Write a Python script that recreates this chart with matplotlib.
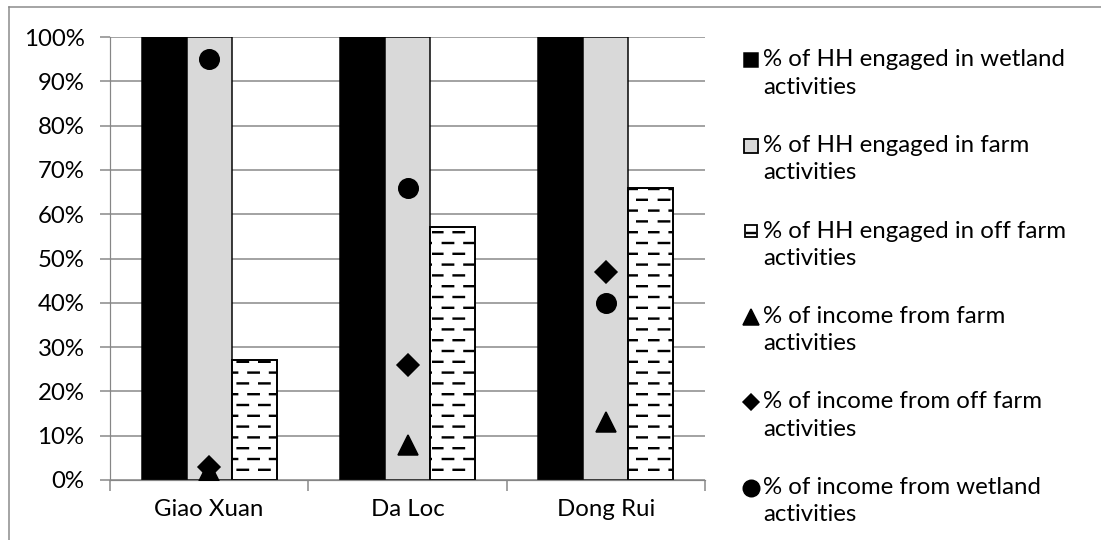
import numpy as np
import matplotlib
matplotlib.use("Agg")
import matplotlib.pyplot as plt
import matplotlib.hatch as mhatch
from matplotlib.path import Path
from matplotlib.patches import Rectangle
from matplotlib.lines import Line2D

# ---------------- data ----------------
sites = ["Giao Xuan", "Da Loc", "Dong Rui"]
hh_wetland = [100, 100, 100]
hh_farm = [100, 100, 100]
hh_offfarm = [27, 57, 66]
inc_farm = [2, 8, 13]
inc_offfarm = [3, 26, 47]
inc_wetland = [95, 66, 40]
yticks = [0, 10, 20, 30, 40, 50, 60, 70, 80, 90, 100]
legend_labels = [
    ("% of HH engaged in wetland", "activities"),
    ("% of HH engaged in farm", "activities"),
    ("% of HH engaged in off farm", "activities"),
    ("% of income from farm", "activities"),
    ("% of income from off farm", "activities"),
    ("% of income from wetland", "activities"),
]

# ------------- custom dashed hatch -------------
class DashHatch(mhatch.HatchPatternBase):
    def __init__(self, hatch, density):
        n = hatch.count('-')
        self.rows = 10 if n else 0
        self.cols = 5
        self.num_lines = self.rows * self.cols
        self.num_vertices = self.num_lines * 2

    def set_vertices_and_codes(self, vertices, codes):
        k = 0
        period = 1.0 / self.cols
        L = 0.48 * period
        for r in range(self.rows):
            y = (r + 0.5) / self.rows
            off = 0.0 if r % 2 == 0 else period / 2
            for c in range(self.cols):
                x0 = c * period + off
                vertices[k] = (x0, y)
                vertices[k + 1] = (x0 + L, y)
                codes[k] = Path.MOVETO
                codes[k + 1] = Path.LINETO
                k += 2

mhatch._hatch_types = [DashHatch]

FONT = "Lato"
FS = 16
plt.rcParams['font.family'] = [FONT, 'DejaVu Sans']
plt.rcParams['hatch.linewidth'] = 1.6
plt.rcParams['hatch.color'] = '#333333'

DPI = 108
W, H = 1101, 540
fig = plt.figure(figsize=(W / DPI, H / DPI), dpi=DPI)
ax = fig.add_axes([110 / W, 1 - 480 / H, (705 - 110) / W, (480 - 37) / H])

x = np.arange(len(sites))
bw = 0.227
grid_c = '#868686'

ax.set_axisbelow(True)
ax.yaxis.grid(True, color=grid_c, linewidth=1.0)
ax.bar(x - bw, hh_wetland, bw, color='black', edgecolor='black', linewidth=1.0, zorder=2)
ax.bar(x, hh_farm, bw, color='#d9d9d9', edgecolor='black', linewidth=1.0, zorder=2)
ax.bar(x + bw, hh_offfarm, bw, color='white', edgecolor='black', linewidth=1.3,
       hatch='-', zorder=2)

ax.plot(x, inc_farm, linestyle='none', marker='^', markersize=13, color='black', zorder=4)
ax.plot(x, inc_offfarm, linestyle='none', marker='D', markersize=10, color='black', zorder=5)
ax.plot(x, inc_wetland, linestyle='none', marker='o', markersize=13, color='black', zorder=5)

ax.set_xlim(-0.5, len(sites) - 0.5)
ax.set_ylim(0, 100)
ax.set_yticks(yticks)
ax.set_yticklabels([f"{v}%" for v in yticks])
ax.set_xticks(x)
ax.set_xticklabels(sites)
ax.set_xticks(np.arange(len(sites) + 1) - 0.5, minor=True)
ax.tick_params(axis='x', which='major', length=0, pad=13, labelsize=FS)
ax.tick_params(axis='x', which='minor', length=7, color=grid_c, width=1.0, direction='out')
ax.tick_params(axis='y', length=7, color=grid_c, width=1.0, pad=10, labelsize=FS)
for s in ['top', 'right']:
    ax.spines[s].set_visible(False)
ax.spines['left'].set_color(grid_c)
ax.spines['bottom'].set_color(grid_c)

# ---------------- legend (manual) ----------------
def px(xp, yp):
    return xp / W, 1 - yp / H

first_y = 60
step = 85.5
line_gap = 27
hx = 751
tx = 763
for i, (l1, l2) in enumerate(legend_labels):
    yc = first_y + i * step
    if i == 0:
        fig.add_artist(Rectangle(px(hx - 7, yc + 7), 14 / W, 14 / H, transform=fig.transFigure,
                                 facecolor='black', edgecolor='black', linewidth=1))
    elif i == 1:
        fig.add_artist(Rectangle(px(hx - 7, yc + 7), 14 / W, 14 / H, transform=fig.transFigure,
                                 facecolor='#d9d9d9', edgecolor='black', linewidth=1.2))
    elif i == 2:
        fig.add_artist(Rectangle(px(hx - 6, yc + 6), 12 / W, 12 / H, transform=fig.transFigure,
                                 facecolor='white', edgecolor='black', linewidth=1.2))
        fig.add_artist(Line2D([(hx - 4) / W, (hx + 4) / W], [1 - (yc + 2) / H] * 2,
                              transform=fig.transFigure, color='black', linewidth=1.6))
    else:
        mk = {3: '^', 4: 'D', 5: 'o'}[i]
        ms = {3: 11, 4: 8, 5: 11}[i]
        fig.add_artist(Line2D([hx / W], [1 - yc / H], transform=fig.transFigure,
                              marker=mk, markersize=ms, color='black', linestyle='none'))
    fig.text(tx / W, 1 - yc / H, l1, fontsize=FS, va='center', ha='left')
    fig.text(tx / W, 1 - (yc + line_gap) / H, l2, fontsize=FS, va='center', ha='left')

# outer frame lines
frame_c = '#898989'
fig.add_artist(Line2D([9 / W, 1.0], [1 - 7 / H] * 2, transform=fig.transFigure,
                      color=frame_c, linewidth=1.0))
fig.add_artist(Line2D([9 / W] * 2, [1 - 7 / H, 0.0], transform=fig.transFigure,
                      color=frame_c, linewidth=1.0))

fig.savefig("out.png", dpi=DPI)
